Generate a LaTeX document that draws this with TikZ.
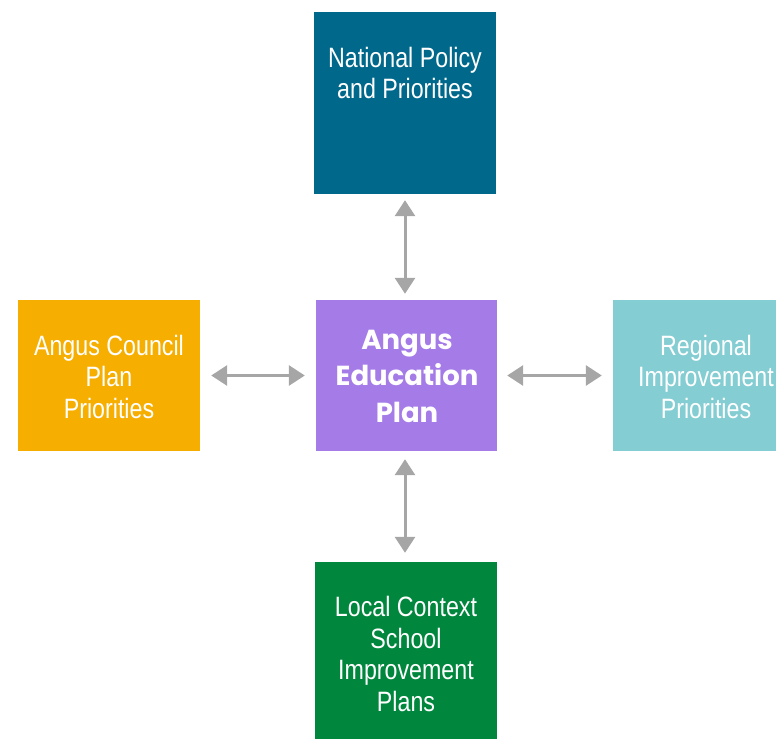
\documentclass[tikz,border=0pt]{standalone}
\usepackage{fontspec}
\setmainfont{Liberation Sans}[FakeStretch=0.83]
\newfontfamily\boldgeo{Poppins}
\usetikzlibrary{arrows.meta}
\definecolor{natc}{HTML}{00688B}
\definecolor{angc}{HTML}{A57BE8}
\definecolor{counc}{HTML}{F6AE00}
\definecolor{regc}{HTML}{84CDD3}
\definecolor{locc}{HTML}{00873D}
\definecolor{arrc}{HTML}{A6A6A6}
\tikzset{
  box/.style={rectangle, inner sep=0pt, draw=none},
  lbl/.style={text=white, align=center, font=\fontsize{28}{31.5}\selectfont, inner sep=0pt},
  mainlbl/.style={text=white, align=center, font=\boldgeo\bfseries\fontsize{27.5}{36.5}\selectfont, inner sep=0pt},
  link/.style={draw=arrc, line width=3pt, {Triangle[width=20pt,length=16pt]}-{Triangle[width=20pt,length=16pt]}}
}
\begin{document}
\begin{tikzpicture}[x=1pt,y=-1pt]
\useasboundingbox (0,0) rectangle (776,739);
\node[box, fill=natc, minimum width=182pt, minimum height=182pt] (nat) at (405,103) {};
\node[lbl] (nattxt) at (405,73) {National Policy\\and Priorities};
\node[box, fill=angc, minimum width=181pt, minimum height=151pt] (aep) at (406.5,375.5) {};
\node[mainlbl] (aeptxt) at (407,376) {Angus\\Education\\Plan};
\node[box, fill=counc, minimum width=182pt, minimum height=151pt] (acp) at (109,375.5) {};
\node[lbl] (acptxt) at (109,376.5) {Angus Council\\Plan\\Priorities};
\node[box, fill=regc, minimum width=182pt, minimum height=151pt] (rip) at (704,375.5) {};
\node[lbl] (riptxt) at (706,376.5) {Regional\\Improvement\\Priorities};
\node[box, fill=locc, minimum width=182pt, minimum height=177pt] (lcs) at (406,650.5) {};
\node[lbl] (lcstxt) at (406,654) {Local Context\\School\\Improvement\\Plans};
\draw[link, shorten <=6pt, shorten >=6pt] (nat.south) -- (aep.north -| nat.south);
\draw[link, shorten <=11pt, shorten >=11pt] (acp.east) -- (aep.west);
\draw[link, shorten <=10pt, shorten >=11pt] (aep.east) -- (rip.west);
\draw[link, shorten <=8pt, shorten >=9pt] (aep.south -| nat.south) -- (lcs.north -| nat.south);
\end{tikzpicture}
\end{document}
